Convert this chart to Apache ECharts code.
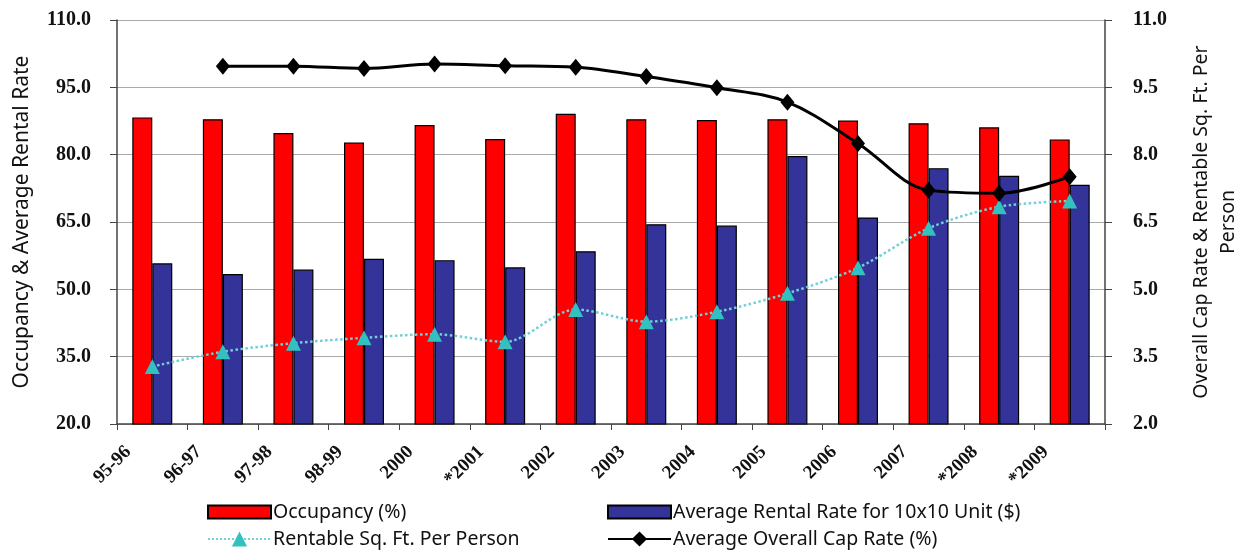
<!DOCTYPE html>
<html><head><meta charset="utf-8">
<script src="https://cdn.jsdelivr.net/npm/echarts@6/dist/echarts.min.js"></script>
<style>html,body{margin:0;padding:0;background:#fff}#c{width:1244px;height:560px}</style>
</head><body><div id="c"></div>
<script>
const categories = ['95-96','96-97','97-98','98-99','2000','*2001','2002','2003','2004','2005','2006','2007','*2008','*2009'];
const occupancy = [88.3,87.9,84.8,82.7,86.6,83.5,89.1,87.9,87.7,87.9,87.6,87.0,86.1,83.4];
const rentalRate = [55.8,53.4,54.4,56.8,56.5,54.9,58.5,64.5,64.2,79.7,66.0,77.0,75.3,73.3];
const sqFtPerPerson = [3.28,3.61,3.80,3.92,4.00,3.83,4.55,4.28,4.50,4.91,5.48,6.36,6.84,6.97];
const capRate = [null,9.97,9.97,9.92,10.02,9.98,9.95,9.74,9.49,9.17,8.25,7.21,7.14,7.51];
const leftTicks = {min:20, max:110, step:15};
const rightTicks = {min:2, max:11, step:1.5};

const sans = '"Noto Sans", sans-serif';
const serif = '"Liberation Serif", serif';
const chart = echarts.init(document.getElementById('c'));
const legendBase = {itemWidth:63, itemHeight:13, itemGap:0, textStyle:{fontFamily:sans, fontSize:19.5, color:'#111', padding:[0,0,0,-3]}, selectedMode:false};
const legendLine = Object.assign({}, legendBase, {itemHeight:19});
chart.setOption({
  animation:false,
  grid:{left:117, right:139, top:20, bottom:136, containLabel:false, outerBoundsMode:'none'},
  legend:[
    Object.assign({data:[{name:'Occupancy (%)', icon:'rect'}], left:202, top:497}, legendBase),
    Object.assign({data:[{name:'Average Rental Rate for 10x10 Unit ($)', icon:'rect'}], left:602, top:497}, legendBase),
    Object.assign({data:['Rentable Sq. Ft. Per Person'], left:202, top:524}, legendLine),
    Object.assign({data:['Average Overall Cap Rate (%)'], left:602, top:524}, legendLine)
  ],
  xAxis:{type:'category', data:categories, boundaryGap:true,
    axisLine:{lineStyle:{color:'#444', width:1.5}},
    axisTick:{show:true, length:6, lineStyle:{color:'#444'}},
    axisLabel:{rotate:45, fontFamily:serif, fontWeight:'bold', fontSize:19, color:'#111', margin:1, interval:0, padding:[0,34,0,0]}
  },
  yAxis:[
    {type:'value', min:leftTicks.min, max:leftTicks.max, interval:leftTicks.step,
     name:'Occupancy & Average Rental Rate', nameLocation:'middle', nameRotate:90, nameGap:84,
     nameTextStyle:{fontFamily:sans, fontSize:21, color:'#111'},
     axisLine:{show:true, lineStyle:{color:'#444', width:1.5}},
     axisTick:{show:true, length:7, lineStyle:{color:'#444'}},
     splitLine:{show:true, lineStyle:{color:'#aaa', width:1}},
     axisLabel:{formatter:v=>v.toFixed(1), fontFamily:serif, fontWeight:'bold', fontSize:20, color:'#111', margin:26}
    },
    {type:'value', min:rightTicks.min, max:rightTicks.max, interval:rightTicks.step, position:'right',
     name:'Overall Cap Rate & Rentable Sq. Ft. Per\nPerson', nameLocation:'middle', nameRotate:90, nameGap:83,
     nameTextStyle:{fontFamily:sans, fontSize:19.5, color:'#111', lineHeight:27, align:'center'},
     axisLine:{show:true, lineStyle:{color:'#444', width:1.5}},
     axisTick:{show:true, length:7, lineStyle:{color:'#444'}},
     splitLine:{show:false},
     axisLabel:{formatter:v=>v.toFixed(1), fontFamily:serif, fontWeight:'bold', fontSize:20, color:'#111', margin:28}
    }
  ],
  series:[
    {name:'Occupancy (%)', type:'bar', data:occupancy, yAxisIndex:0, barWidth:20, barGap:'0%',
     itemStyle:{color:'#ff0000', borderColor:'#000', borderWidth:1.2}},
    {name:'Average Rental Rate for 10x10 Unit ($)', type:'bar', data:rentalRate, yAxisIndex:0, barWidth:20,
     itemStyle:{color:'#333399', borderColor:'#000', borderWidth:1.2}},
    {name:'Rentable Sq. Ft. Per Person', type:'line', data:sqFtPerPerson, yAxisIndex:1, smooth:0.3,
     symbol:'triangle', symbolSize:15, z:5,
     lineStyle:{color:'#6fd0d6', width:2.5, type:'dotted'},
     itemStyle:{color:'#33c0c0'}},
    {name:'Average Overall Cap Rate (%)', type:'line', data:capRate, yAxisIndex:1, smooth:0.35,
     symbol:'diamond', symbolSize:[14,17], z:6, connectNulls:false,
     lineStyle:{color:'#000', width:3},
     itemStyle:{color:'#000'}}
  ]
});
</script></body></html>
